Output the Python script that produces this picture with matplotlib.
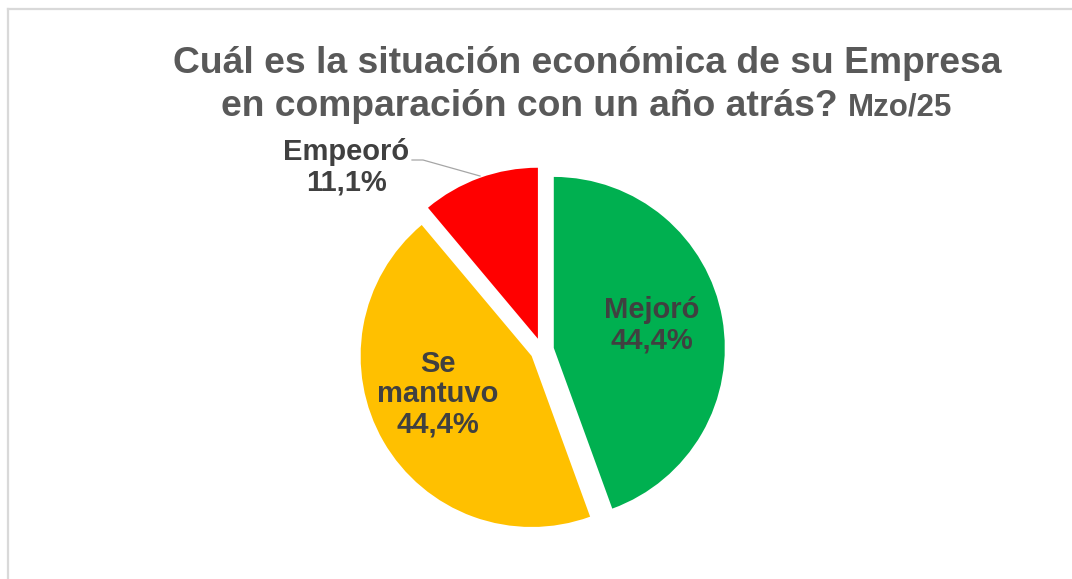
import matplotlib.pyplot as plt
from matplotlib.lines import Line2D

# datos
categorias = ["Mejoró", "Se mantuvo", "Empeoró"]
valores = [44.4, 44.4, 11.1]
etiquetas = ["Mejoró\n44,4%", "Se\nmantuvo\n44,4%", "Empeoró\n11,1%"]
colores = ["#00B050", "#FFC000", "#FF0000"]

W, H = 1072, 579
plt.rcParams['font.family'] = ['Liberation Sans', 'DejaVu Sans']

fig = plt.figure(figsize=(W / 100, H / 100), dpi=100)

def px(x, y):
    # pixel (desde arriba) -> fraccion de figura
    return x / W, 1 - y / H

# marco gris (solo se ve arriba e izquierda)
fig.add_artist(Line2D([7.5 / W, 7.5 / W], [0, 1 - 8.5 / H], color="#D9D9D9", lw=1.6))
fig.add_artist(Line2D([7.5 / W, 1], [1 - 8.5 / H, 1 - 8.5 / H], color="#D9D9D9", lw=1.6))

# pastel
cx, cy, R = 542, 350, 171
half = 200
ax = fig.add_axes([(cx - half) / W, (H - cy - half) / H, 2 * half / W, 2 * half / H])
ax.pie(valores, colors=colores, startangle=90, counterclock=False,
       explode=[0.07, 0.07, 0.07], radius=1,
       wedgeprops=dict(linewidth=0))
lim = half / R
ax.set_xlim(-lim, lim)
ax.set_ylim(-lim, lim)
ax.set_aspect('equal')
ax.axis('off')

# titulo
gris = "#595959"
fig.text(*px(587, 73), "Cuál es la situación económica de su Empresa",
         ha='center', va='baseline', fontsize=26.8, fontweight='bold', color=gris)
fig.text(*px(838, 116), "en comparación con un año atrás?",
         ha='right', va='baseline', fontsize=26.8, fontweight='bold', color=gris)
fig.text(*px(848, 116), "Mzo/25",
         ha='left', va='baseline', fontsize=22.5, fontweight='bold', color=gris)

# etiquetas
oscuro = "#404040"
pos = [(652, 325), (438, 394), (346, 167)]
for t, (x, y) in zip(etiquetas, pos):
    fig.text(*px(x, y), t, ha='center', va='center', fontsize=21,
             fontweight='bold', color=oscuro, linespacing=1.1)

# linea guia de Empeoró
fig.add_artist(Line2D([412 / W, 423 / W, 480 / W],
                      [1 - 160 / H, 1 - 160 / H, 1 - 176 / H],
                      color="#A6A6A6", lw=0.9))

fig.savefig("out.png", dpi=100)
